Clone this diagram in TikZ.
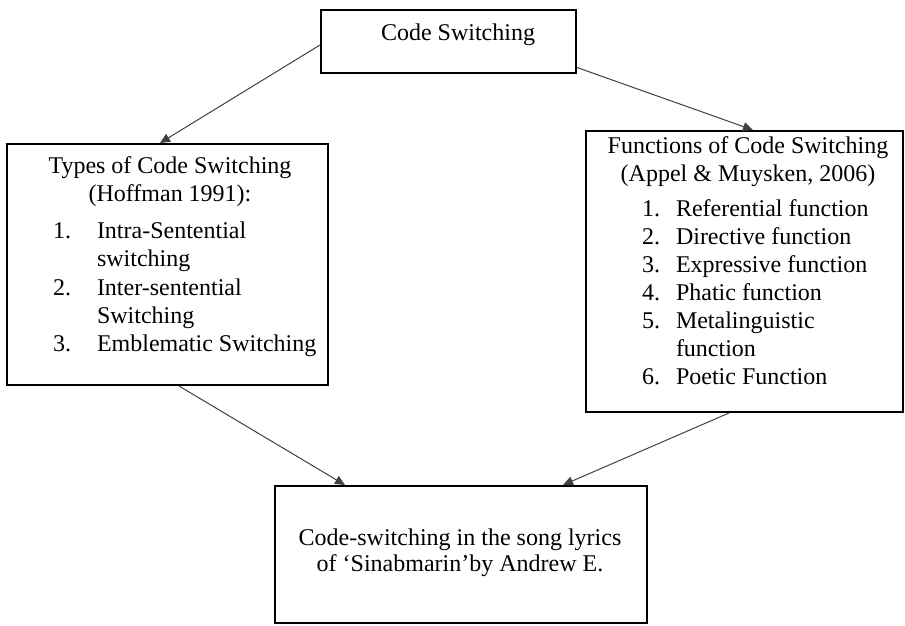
\documentclass[tikz,border=0pt]{standalone}
\usepackage{fontspec}
\setmainfont{Liberation Serif}
\usetikzlibrary{arrows.meta}
\begin{document}
\begin{tikzpicture}[x=1pt,y=-1pt,
  cbox/.style={draw=black,line width=2pt,inner sep=0pt,outer sep=1pt},
  txt/.style={font=\fontsize{24}{28}\selectfont,inner sep=0pt,outer sep=0pt,anchor=base},
  ltxt/.style={txt,anchor=base west},
  link/.style={draw=black!75,line width=1pt,-{Triangle[length=10pt,width=9pt]}}]
\useasboundingbox (0,0) rectangle (905,626);
% boxes
\node[cbox,minimum width=255pt,minimum height=63pt] (ntop) at (448.5,41.5) {};
\node[cbox,minimum width=321pt,minimum height=241pt] (ntypes) at (167.5,264.5) {};
\node[cbox,minimum width=317pt,minimum height=281pt] (nfunc) at (744.5,271.5) {};
\node[cbox,minimum width=372pt,minimum height=137pt] (nsong) at (461,554.5) {};
% top text
\node[txt] (ttop) at (458,41) {Code Switching};
% left box text
\node[txt] (th1) at (170,173) {Types of Code Switching};
\node[txt] (th2) at (170,201) {(Hoffman 1991):};
\foreach \n/\y/\t [count=\i] in {1./238/Intra-Sentential, /266/switching, 2./295/Inter-sentential, /323/Switching, 3./351/Emblematic Switching}{
  \node[ltxt] (tn\i) at (53,\y) {\n};
  \node[ltxt] (tt\i) at (97,\y) {\t};
}
% right box text
\node[txt] (fh1) at (748,153) {Functions of Code Switching};
\node[txt] (fh2) at (748,181) {(Appel \& Muysken, 2006)};
\foreach \n/\y/\t [count=\i] in {1./216/Referential function, 2./244/Directive function, 3./272/Expressive function, 4./300/Phatic function, 5./328/Metalinguistic, /356/function, 6./384/Poetic Function}{
  \node[ltxt] (fn\i) at (642,\y) {\n};
  \node[ltxt] (ft\i) at (676,\y) {\t};
}
% bottom text
\node[txt] (s1) at (460,545) {Code-switching in the song lyrics};
\node[txt] (s2) at (460,571) {of ‘Sinabmarin’by Andrew E.};
% connectors
\draw[link] ([yshift=-3.5pt]ntop.west) -- ([xshift=-7.5pt]ntypes.north);
\draw[link] ([yshift=-26pt]ntop.east) -- ([xshift=8.5pt]nfunc.north);
\draw[link] ([xshift=11.5pt]ntypes.south) -- ([xshift=-116pt]nsong.north);
\draw[link] ([xshift=-15.5pt]nfunc.south) -- ([xshift=102pt]nsong.north);
\end{tikzpicture}
\end{document}
